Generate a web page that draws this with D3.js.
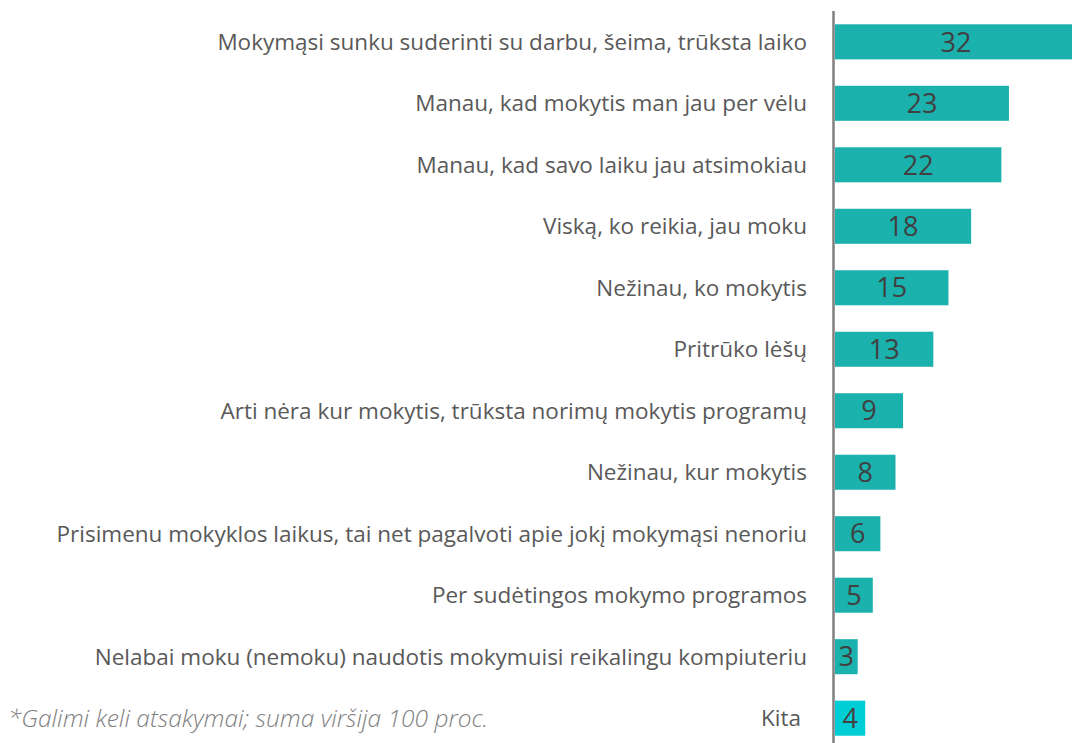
<!DOCTYPE html>
<html>
<head>
<meta charset="utf-8" />
<script src="https://d3js.org/d3.v7.min.js"></script>
<style>
body { margin: 0; background: #fff; }
.cat { font-family: "Open Sans", sans-serif; font-size: 22.5px; fill: #595959; }
.val { font-family: "Open Sans", sans-serif; font-size: 27px; fill: #404040; }
.note { font-family: "Open Sans", sans-serif; font-size: 24.5px; font-style: italic; font-weight: 300; fill: #7f7f7f; }
</style>
</head>
<body>
<script>
// survey answers (proc.)
var categories = [
  "Mokymąsi sunku suderinti su darbu, šeima, trūksta laiko",
  "Manau, kad mokytis man jau per vėlu",
  "Manau, kad savo laiku jau atsimokiau",
  "Viską, ko reikia, jau moku",
  "Nežinau, ko mokytis",
  "Pritrūko lėšų",
  "Arti nėra kur mokytis, trūksta norimų mokytis programų",
  "Nežinau, kur mokytis",
  "Prisimenu mokyklos laikus, tai net pagalvoti apie jokį mokymąsi nenoriu",
  "Per sudėtingos mokymo programos",
  "Nelabai moku (nemoku) naudotis mokymuisi reikalingu kompiuteriu",
  "Kita"
];
var values = [32, 23, 22, 18, 15, 13, 9, 8, 6, 5, 3, 4];
var footnote = "*Galimi keli atsakymai; suma viršija 100 proc.";

var width = 1072, height = 743;
var x0 = 835;

var svg = d3.select("body").append("svg")
    .attr("width", width)
    .attr("height", height);

var x = d3.scaleLinear().domain([0, 32]).range([x0, x0 + 242]);
var y = d3.scaleBand().domain(categories).range([12, 748]).paddingInner(0.43).paddingOuter(0.2);

// bars
svg.selectAll(".bar")
    .data(values)
  .enter().append("rect")
    .attr("x", x(0))
    .attr("y", function(d, i) { return y(categories[i]); })
    .attr("width", function(d) { return x(d) - x(0); })
    .attr("height", y.bandwidth())
    .style("fill", function(d, i) { return categories[i] == "Kita" ? "#00ced6" : "#1bb1ad"; });

// value labels
svg.selectAll(".val")
    .data(values)
  .enter().append("text")
    .attr("class", "val")
    .attr("x", function(d) { return (x(0) + x(d)) / 2; })
    .attr("y", function(d, i) { return y(categories[i]) + y.bandwidth() / 2; })
    .attr("dy", "0.36em")
    .attr("text-anchor", "middle")
    .text(function(d) { return d; });

// category labels
svg.selectAll(".cat")
    .data(categories)
  .enter().append("text")
    .attr("class", "cat")
    .attr("x", function(d) { return d == "Kita" ? 801 : 807; })
    .attr("y", function(d) { return y(d) + y.bandwidth() / 2; })
    .attr("dy", "0.35em")
    .attr("text-anchor", "end")
    .text(function(d) { return d; });

// vertical axis line
svg.append("line")
    .attr("x1", 833.5).attr("x2", 833.5)
    .attr("y1", 11).attr("y2", height)
    .style("stroke", "#7f7f7f")
    .style("stroke-width", 2.5);

svg.append("text")
    .attr("class", "note")
    .attr("x", 8)
    .attr("y", y("Kita") + y.bandwidth() / 2)
    .attr("dy", "0.35em")
    .text(footnote);
</script>
</body>
</html>
